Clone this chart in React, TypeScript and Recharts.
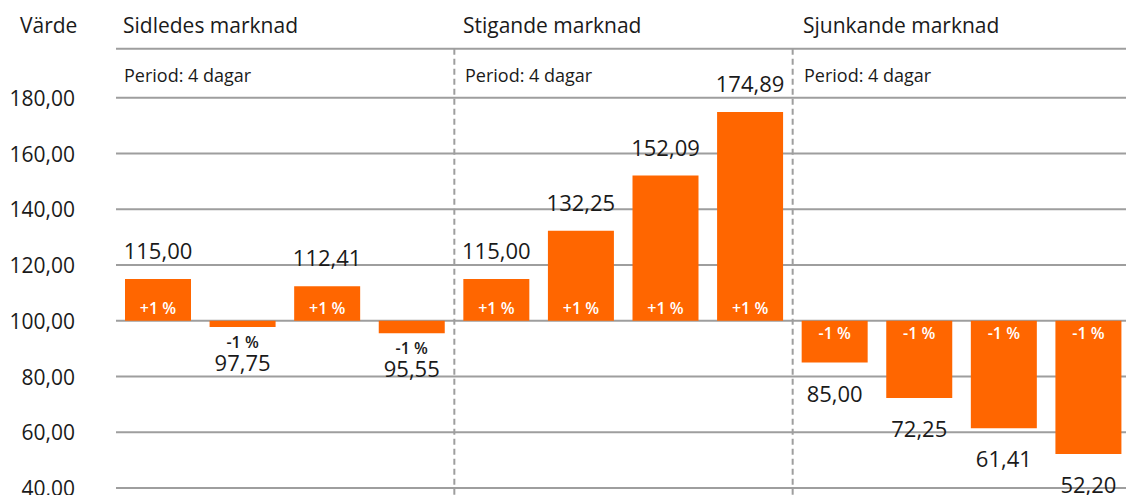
import React from 'react';
import { BarChart, Bar, XAxis, YAxis, CartesianGrid, ReferenceLine, LabelList } from 'recharts';

// ---------------------------------------------------------------------------
// Data
// ---------------------------------------------------------------------------
const baseline = 100;
const categories = ['s1', 's2', 's3', 's4', 'u1', 'u2', 'u3', 'u4', 'd1', 'd2', 'd3', 'd4'];
const values = [115.0, 97.75, 112.41, 95.55, 115.0, 132.25, 152.09, 174.89, 85.0, 72.25, 61.41, 52.2];
const changes = ['+1 %', '-1 %', '+1 %', '-1 %', '+1 %', '+1 %', '+1 %', '+1 %', '-1 %', '-1 %', '-1 %', '-1 %'];
const groupTitles = ['Sidledes marknad', 'Stigande marknad', 'Sjunkande marknad'];
const groupPeriods = ['Period: 4 dagar', 'Period: 4 dagar', 'Period: 4 dagar'];
const yTicks = [40, 60, 80, 100, 120, 140, 160, 180];

const data = categories.map((name, i) => ({
  name,
  range: [baseline, values[i]],
  value: values[i],
  change: changes[i],
}));

// ---------------------------------------------------------------------------
// Styles
// ---------------------------------------------------------------------------
const FONT = '"Open Sans", sans-serif';
const ORANGE = '#FF6600';
const GRID = '#9e9e9e';
const TEXT = '#1a1a1a';
const HEADER_VALUE = 197.6;

const fmt = (v: number) => v.toFixed(2).replace('.', ',');

const YTick = (props: any) => {
  const { y, payload } = props;
  return (
    <text x={75} y={y} textAnchor="end" dominantBaseline="central" fontFamily={FONT} fontSize={21} fill={TEXT}>
      {fmt(payload.value)}
    </text>
  );
};

const BarLabels = (props: any) => {
  const { x, y, width, height, index } = props;
  const v = values[index];
  const cx = x + width / 2;
  const top = Math.min(y, y + height);
  const bottom = Math.max(y, y + height);
  const h = bottom - top;
  const valueText = (cy: number) => (
    <text x={cx} y={cy} textAnchor="middle" dominantBaseline="central" fontFamily={FONT} fontSize={22} fill={TEXT}>
      {fmt(v)}
    </text>
  );
  const changeText = (cy: number, fill: string) => (
    <text x={cx} y={cy} textAnchor="middle" dominantBaseline="central" fontFamily={FONT} fontSize={16} fontWeight={600} fill={fill}>
      {changes[index]}
    </text>
  );
  if (v >= baseline) {
    return (
      <g>
        {valueText(top - 29)}
        {changeText(bottom - 13, '#fff')}
      </g>
    );
  }
  if (h > 25) {
    return (
      <g>
        {changeText(top + 12, '#fff')}
        {valueText(bottom + 30)}
      </g>
    );
  }
  return (
    <g>
      {changeText(bottom + 15, TEXT)}
      {valueText(bottom + 35)}
    </g>
  );
};

const groupLeft = [123, 463, 803];
const periodLeft = [124, 465, 804];

export default function App(): React.JSX.Element {
  return (
    <div style={{ position: 'absolute', left: 0, top: 0, width: 1126, height: 495, overflow: 'hidden', background: '#fff' }}>
      <BarChart
        width={1131}
        height={500}
        data={data}
        margin={{ top: 42, right: 0, left: 0, bottom: 12 }}
        barSize={66}
      >
        <CartesianGrid vertical={false} horizontalValues={yTicks} stroke={GRID} strokeWidth={2} />
        <XAxis dataKey="name" hide />
        <YAxis
          width={116}
          domain={[40, 200]}
          ticks={yTicks}
          axisLine={false}
          tickLine={false}
          tick={<YTick />}
          interval={0}
        />
        <ReferenceLine y={HEADER_VALUE} stroke={GRID} strokeWidth={2} />
        {[4, 8].map((i) => (
          <ReferenceLine
            key={i}
            position="start"
            segment={[
              { x: categories[i], y: HEADER_VALUE },
              { x: categories[i], y: 35 },
            ]}
            ifOverflow="visible"
            stroke={GRID}
            strokeWidth={2}
            strokeDasharray="6 4"
          />
        ))}
        <Bar dataKey="range" fill={ORANGE} isAnimationActive={false}>
          <LabelList dataKey="value" content={<BarLabels />} />
        </Bar>
      </BarChart>
      <div style={{ position: 'absolute', left: 20, top: 10, fontFamily: FONT, fontSize: 21, lineHeight: '30px', color: TEXT }}>
        Värde
      </div>
      {groupTitles.map((t, i) => (
        <div
          key={t}
          style={{ position: 'absolute', left: groupLeft[i], top: 10, fontFamily: FONT, fontSize: 21, lineHeight: '30px', color: TEXT, whiteSpace: 'nowrap' }}
        >
          {t}
        </div>
      ))}
      {groupPeriods.map((t, i) => (
        <div
          key={i}
          style={{ position: 'absolute', left: periodLeft[i], top: 63, fontFamily: FONT, fontSize: 18, lineHeight: '24px', color: TEXT, whiteSpace: 'nowrap' }}
        >
          {t}
        </div>
      ))}
    </div>
  );
}
